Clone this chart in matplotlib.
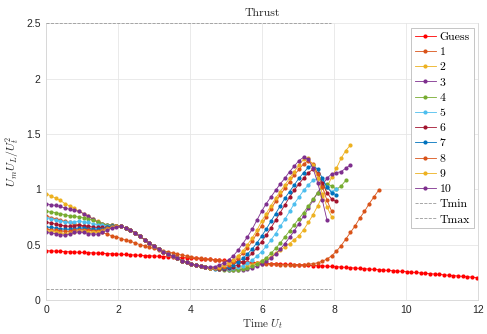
import numpy as np
import matplotlib
matplotlib.use("Agg")
import matplotlib.pyplot as plt

plt.rcParams['mathtext.fontset'] = 'cm'

dt = 0.13  # time step between samples

guess = [.445,.443,.441,.439,.437,.435,.433,.431,.429,.427,.425,.423,.421,.419,.417,.415,
         .413,.411,.408,.406,.404,.401,.399,.397,.395,.392,.390,.388,.385,.383,.381,
         .378,.375,.372,.369,.366,.363,.360,.357,.354,.351,.348,.345,.342,.339,.336,.333,
         .331,.329,.327,.325,.323,.321,.319,.317,.315,.313,.311,.309,.307,.305,.303,
         .300,.297,.294,.291,.288,.285,.282,.279,.276,.273,.270,.267,.264,.261,.258,
         .255,.251,.248,.244,.241,.237,.234,.230,.227,.223,.220,.216,.213,.209,.206,.202]

it1 = [.76,.745,.735,.72,.71,.70,.69,.675,.665,.65,.635,.62,.61,.595,.58,.57,
       .555,.54,.53,.515,.50,.49,.475,.465,.455,.445,.435,.425,.415,.405,.397,.39,
       .383,.377,.372,.367,.362,.357,.353,.349,.345,.342,.339,.336,.333,.33,.328,.326,
       .324,.322,.32,.319,.318,.318,.318,.32,.323,.328,.336,.35,.37,.40,.44,.49,
       .55,.61,.67,.74,.80,.87,.93,.99]

it2 = [.96,.94,.92,.90,.87,.85,.83,.80,.78,.76,.73,.71,.69,.68,.675,.67,
       .665,.65,.63,.605,.575,.545,.515,.485,.46,.435,.415,.395,.375,.355,.34,.325,.313,.303,.295,.29,.285,.28,
       .28,.28,.285,.29,.30,.31,.32,.335,.35,.37,.39,.42,.45,.48,.51,.545,.58,.635,.70,.77,.85,.94,1.02,1.11,1.19,1.28,1.35,1.40]

it3 = [.87,.86,.855,.845,.83,.82,.81,.80,.78,.755,.73,.705,.69,.68,.675,.67,
       .665,.65,.63,.605,.575,.545,.515,.485,.46,.435,.415,.395,.375,.355,.34,.325,.313,.303,.295,.29,.285,.28,
       .28,.275,.272,.272,.275,.28,.29,.305,.325,.35,.38,.415,.46,.51,.565,.625,.69,.76,.83,.90,.97,1.04,1.10,1.14,1.15,1.16,1.19,1.22]

it4 = [.80,.795,.79,.78,.77,.76,.755,.75,.745,.735,.72,.705,.69,.68,.675,.67,
       .665,.65,.63,.605,.575,.545,.515,.485,.46,.435,.415,.395,.375,.355,.34,.325,.313,.303,.295,.29,.285,.28,
       .275,.272,.272,.275,.282,.29,.305,.325,.35,.38,.42,.465,.515,.57,.625,.68,.735,.79,.85,.91,.97,1.02,1.05,1.03,1.00,1.03,1.08]

it5 = [.745,.735,.725,.715,.705,.70,.705,.71,.705,.70,.69,.68,.675,.67,.67,.67,
       .665,.65,.63,.605,.575,.545,.515,.485,.46,.435,.415,.395,.375,.355,.34,.325,.313,.303,.295,.29,.285,
       .28,.278,.28,.285,.295,.31,.33,.36,.395,.435,.485,.54,.60,.665,.73,.80,.87,.93,.99,1.04,1.08,1.10,1.08,1.02,.98,1.00]

it6 = [.70,.695,.685,.675,.67,.665,.67,.675,.67,.665,.66,.655,.655,.66,.665,.67,
       .665,.65,.63,.605,.575,.545,.515,.485,.46,.435,.415,.395,.375,.355,.34,.325,.313,.303,.295,.29,.285,
       .28,.282,.29,.30,.32,.345,.38,.42,.47,.525,.585,.65,.72,.79,.86,.93,.99,1.05,1.10,1.15,1.18,1.15,1.06,.97,.91,.89]

it7 = [.66,.655,.65,.645,.64,.64,.645,.65,.65,.645,.64,.64,.645,.655,.665,.67,
       .665,.65,.63,.605,.575,.545,.515,.485,.46,.435,.415,.395,.375,.355,.34,.325,.313,.303,.295,.29,
       .283,.285,.29,.30,.32,.345,.375,.415,.46,.515,.575,.64,.71,.78,.85,.92,.98,1.04,1.10,1.15,1.20,1.22,1.18,1.10,1.02,.97,.95]

it8 = [.64,.635,.63,.625,.62,.62,.63,.635,.635,.63,.625,.625,.635,.65,.66,.67,
       .665,.65,.63,.605,.575,.545,.515,.485,.46,.435,.415,.395,.375,.355,.34,.325,.313,.303,.295,.29,
       .285,.29,.30,.32,.345,.38,.42,.47,.53,.60,.67,.75,.82,.89,.95,1.01,1.07,1.13,1.18,1.23,1.26,1.23,1.14,1.02,.90,.80]

it9 = [.625,.62,.615,.605,.60,.605,.615,.62,.62,.615,.61,.61,.625,.64,.655,.665,
       .665,.65,.63,.605,.575,.545,.515,.485,.46,.435,.415,.395,.375,.355,.34,.325,.313,.303,
       .295,.29,.29,.30,.315,.335,.36,.40,.44,.50,.56,.63,.71,.78,.85,.92,.98,1.04,1.10,1.16,1.22,1.27,1.28,1.22,1.10,.96,.84,.75]

it10 = [.61,.605,.60,.59,.585,.595,.61,.615,.61,.60,.595,.595,.61,.63,.65,.66,
        .665,.65,.63,.605,.575,.545,.515,.485,.46,.435,.415,.395,.375,.355,.34,.325,.315,.305,
        .30,.295,.30,.315,.335,.365,.40,.45,.51,.57,.64,.72,.80,.87,.93,.99,1.05,1.10,1.16,1.21,1.26,1.29,1.27,1.19,1.06,.90,.72]

series = [guess, it1, it2, it3, it4, it5, it6, it7, it8, it9, it10]
labels = ['Guess', '1', '2', '3', '4', '5', '6', '7', '8', '9', '10']
colors = ['#FF0000', '#D95319', '#EDB120', '#7E2F8E', '#77AC30', '#4DBEEE',
          '#A2142F', '#0072BD', '#D95319', '#EDB120', '#7E2F8E']

t_bounds = [0, 7.9]
T_min = 0.1
T_max = 2.5

fig = plt.figure(figsize=(4.87, 3.34), dpi=100)
ax = fig.add_axes([0.095, 0.102, 0.887, 0.828])

for vals, lab, col in zip(series, labels, colors):
    t = np.arange(len(vals)) * dt
    ax.plot(t, vals, '-', color=col, lw=0.6, marker='o', ms=3.0, mec='none', label=lab)

ax.plot(t_bounds, [T_min, T_min], '--', color='#999999', lw=0.6, label='Tmin', zorder=3)
ax.plot(t_bounds, [T_max, T_max], '--', color='#999999', lw=0.6, label='Tmax', zorder=3,
        clip_on=False)

ax.set_xlim(0, 12)
ax.set_ylim(0, 2.5)
ax.set_xticks(np.arange(0, 13, 2))
ax.set_yticks([0, 0.5, 1, 1.5, 2, 2.5])
ax.set_yticklabels(['0', '0.5', '1', '1.5', '2', '2.5'])
ax.grid(True, color='#e6e6e6', lw=0.6)
ax.set_axisbelow(True)
for s in ax.spines.values():
    s.set_color('#d5d5d5')
    s.set_linewidth(0.6)
ax.spines['top'].set_visible(False)
ax.tick_params(length=0, labelsize=7.5, labelcolor='#262626', pad=4)
for lbl in ax.get_xticklabels() + ax.get_yticklabels():
    lbl.set_family('Liberation Sans')

ax.set_title('Thrust', family='cmr10', fontsize=8.5, color='#262626', pad=5)
ax.set_xlabel(r'Time $U_t$', family='cmr10', fontsize=8, color='#262626', labelpad=1)
ax.set_ylabel(r'$U_m U_L/U_t^2$', fontsize=8.5, color='#262626', labelpad=4)

leg = ax.legend(loc='upper right', prop={'family': 'cmr10', 'size': 8.5},
                frameon=True, fancybox=False, edgecolor='#bbbbbb', framealpha=1,
                labelspacing=0.42, handlelength=1.8, handletextpad=0.3,
                borderpad=0.3, borderaxespad=0.4)
leg.get_frame().set_linewidth(0.6)

fig.savefig('out.png', dpi=100)
